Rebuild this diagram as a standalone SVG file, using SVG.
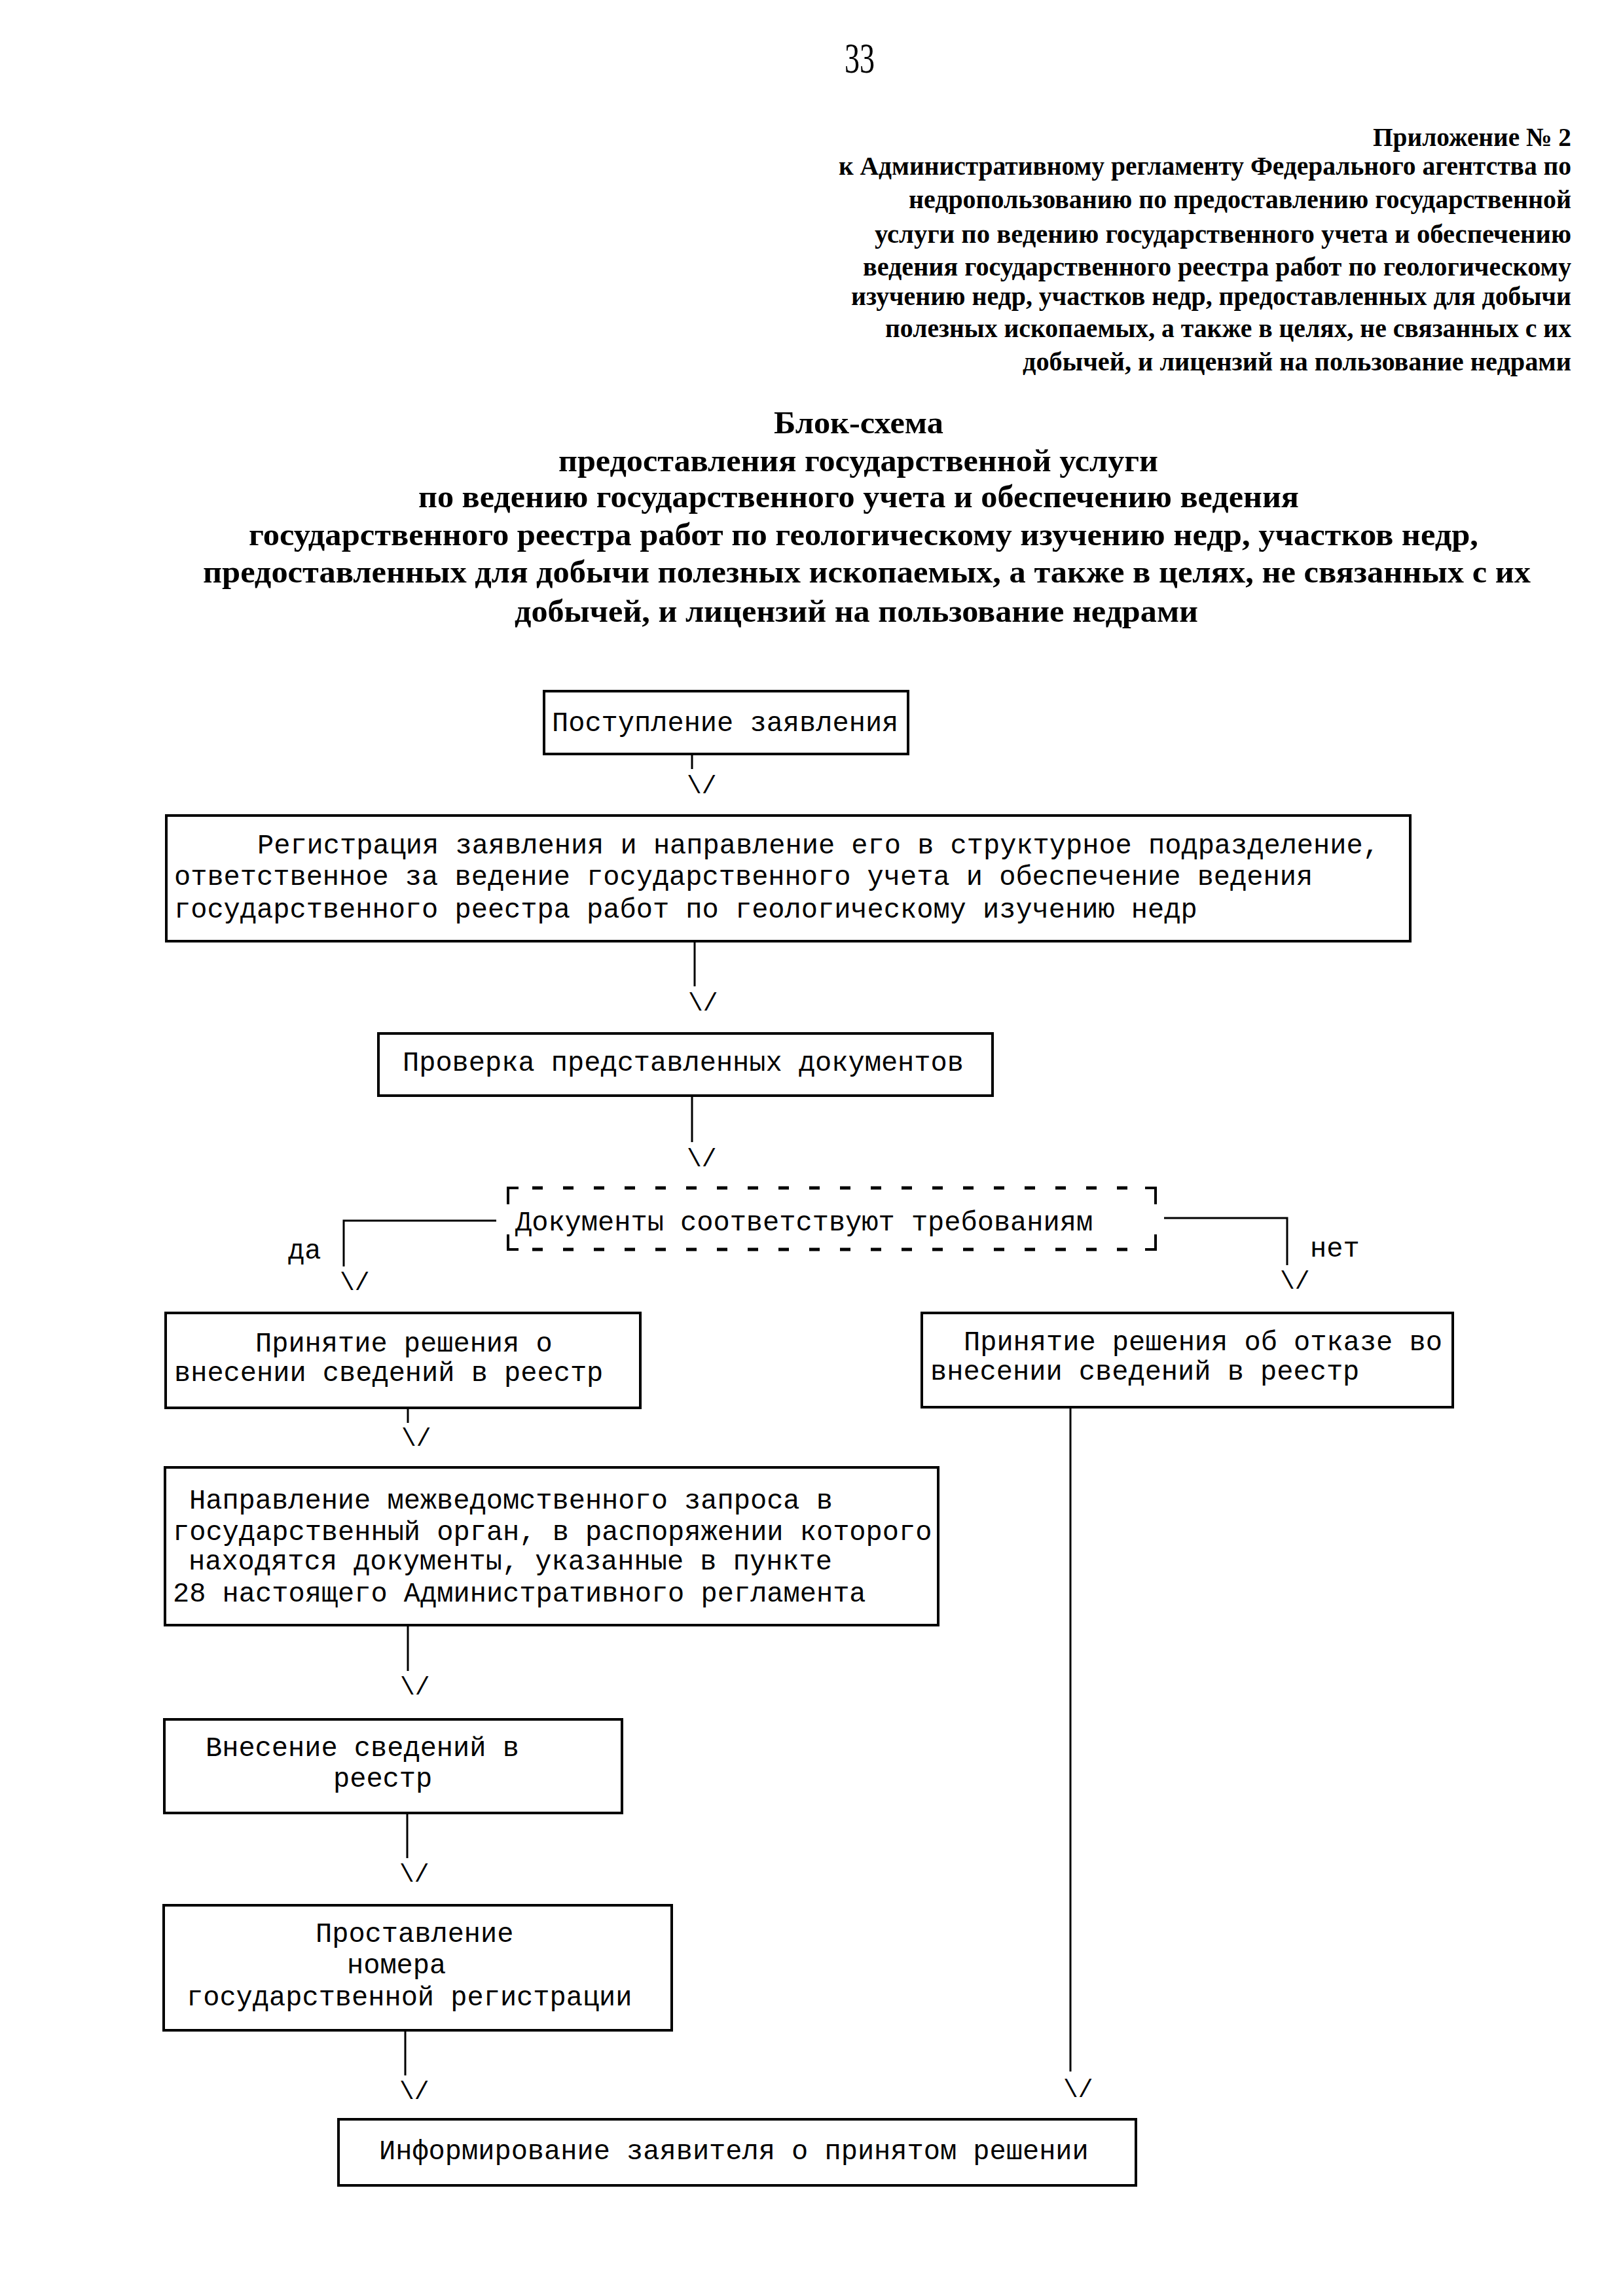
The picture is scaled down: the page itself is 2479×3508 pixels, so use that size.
<svg xmlns="http://www.w3.org/2000/svg" width="2479" height="3508" viewBox="0 0 2479 3508">
<style>
.bg{fill:#fff}
.hdr{font-family:"Liberation Serif","Times New Roman",serif;font-weight:bold;font-size:40px;fill:#000}
.ttl{font-family:"Liberation Serif","Times New Roman",serif;font-weight:bold;font-size:48px;fill:#000}
.pg{font-family:"Liberation Serif","Times New Roman",serif;font-size:66px;fill:#000}
.mono{font-family:"Liberation Mono","Courier New",monospace;font-size:42px;fill:#000}
.arr{font-family:"Liberation Mono","Courier New",monospace;font-size:38px;fill:#000}
.box{fill:none;stroke:#000;stroke-width:4}
.ln{fill:none;stroke:#000;stroke-width:3}
.dash{fill:none;stroke:#000;stroke-width:5;stroke-dasharray:16 31}
.corner{fill:none;stroke:#000;stroke-width:4}
</style>
<rect class="bg" x="0" y="0" width="2479" height="3508"/>

<g id="page-number">
<text class="pg" x="1290" y="111" textLength="46" lengthAdjust="spacingAndGlyphs">33</text>
</g>

<g id="header">
<text class="hdr" x="2097" y="223" textLength="303" lengthAdjust="spacingAndGlyphs">Приложение № 2</text>
<text class="hdr" x="1281" y="267" textLength="1119" lengthAdjust="spacingAndGlyphs">к Административному регламенту Федерального агентства по</text>
<text class="hdr" x="1388" y="318" textLength="1012" lengthAdjust="spacingAndGlyphs">недропользованию по предоставлению государственной</text>
<text class="hdr" x="1336" y="371" textLength="1064" lengthAdjust="spacingAndGlyphs">услуги по ведению государственного учета и обеспечению</text>
<text class="hdr" x="1318" y="421" textLength="1082" lengthAdjust="spacingAndGlyphs">ведения государственного реестра работ по геологическому</text>
<text class="hdr" x="1300" y="466" textLength="1100" lengthAdjust="spacingAndGlyphs">изучению недр, участков недр, предоставленных для добычи</text>
<text class="hdr" x="1352" y="515" textLength="1048" lengthAdjust="spacingAndGlyphs">полезных ископаемых, а также в целях, не связанных с их</text>
<text class="hdr" x="1562" y="566" textLength="838" lengthAdjust="spacingAndGlyphs">добычей, и лицензий на пользование недрами</text>
</g>

<g id="title">
<text class="ttl" x="1182" y="662" textLength="259" lengthAdjust="spacingAndGlyphs">Блок-схема</text>
<text class="ttl" x="853" y="720" textLength="916" lengthAdjust="spacingAndGlyphs">предоставления государственной услуги</text>
<text class="ttl" x="639" y="775" textLength="1345" lengthAdjust="spacingAndGlyphs">по ведению государственного учета и обеспечению ведения</text>
<text class="ttl" x="380" y="833" textLength="1878" lengthAdjust="spacingAndGlyphs">государственного реестра работ по геологическому изучению недр, участков недр,</text>
<text class="ttl" x="310" y="890" textLength="2028" lengthAdjust="spacingAndGlyphs">предоставленных для добычи полезных ископаемых, а также в целях, не связанных с их</text>
<text class="ttl" x="786" y="950" textLength="1044" lengthAdjust="spacingAndGlyphs">добычей, и лицензий на пользование недрами</text>
</g>

<g id="connectors">
<path class="ln" d="M1057,1152 V1175"/>
<text class="arr" x="1049" y="1212">\/</text>
<path class="ln" d="M1061,1438 V1507"/>
<text class="arr" x="1051" y="1544">\/</text>
<path class="ln" d="M1057,1674 V1745"/>
<text class="arr" x="1049" y="1782">\/</text>
<path class="ln" d="M758,1865 H525 V1935"/>
<text class="arr" x="519" y="1971">\/</text>
<path class="ln" d="M1778,1861 H1966 V1933"/>
<text class="arr" x="1955" y="1969">\/</text>
<path class="ln" d="M623,2151 V2174"/>
<text class="arr" x="613" y="2209">\/</text>
<path class="ln" d="M623,2483 V2553"/>
<text class="arr" x="611" y="2589">\/</text>
<path class="ln" d="M622,2770 V2839"/>
<text class="arr" x="610" y="2875">\/</text>
<path class="ln" d="M619,3102 V3171"/>
<text class="arr" x="610" y="3207">\/</text>
<path class="ln" d="M1635,2150 V3165"/>
<text class="arr" x="1624" y="3204">\/</text>
<text class="mono" x="440" y="1923">да</text>
<text class="mono" x="2001" y="1920">нет</text>
</g>

<g id="node-receipt">
<rect class="box" x="831" y="1056" width="556" height="96"/>
<text class="mono" x="843" y="1117">Поступление заявления</text>
</g>

<g id="node-registration">
<rect class="box" x="254" y="1246" width="1900" height="192"/>
<text class="mono" x="393" y="1304">Регистрация заявления и направление его в структурное подразделение,</text>
<text class="mono" x="266" y="1352">ответственное за ведение государственного учета и обеспечение ведения</text>
<text class="mono" x="266" y="1402">государственного реестра работ по геологическому изучению недр</text>
</g>

<g id="node-check">
<rect class="box" x="578" y="1579" width="938" height="95"/>
<text class="mono" x="615" y="1636">Проверка представленных документов</text>
</g>

<g id="node-decision">
<path class="corner" d="M776,1840 V1815 H792"/>
<path class="corner" d="M1749,1815 H1765 V1840"/>
<path class="corner" d="M776,1886 V1909 H792"/>
<path class="corner" d="M1749,1909 H1765 V1886"/>
<path class="dash" d="M813,1815 H1735"/>
<path class="dash" d="M813,1909 H1735"/>
<text class="mono" x="787" y="1880">Документы соответствуют требованиям</text>
</g>

<g id="node-accept">
<rect class="box" x="253" y="2006" width="725" height="145"/>
<text class="mono" x="390" y="2065">Принятие решения о</text>
<text class="mono" x="266" y="2110">внесении сведений в реестр</text>
</g>

<g id="node-refuse">
<rect class="box" x="1408" y="2006" width="811" height="144"/>
<text class="mono" x="1472" y="2063">Принятие решения об отказе во</text>
<text class="mono" x="1421" y="2108">внесении сведений в реестр</text>
</g>

<g id="node-request">
<rect class="box" x="252" y="2242" width="1181" height="241"/>
<text class="mono" x="289" y="2305">Направление межведомственного запроса в</text>
<text class="mono" x="264" y="2353">государственный орган, в распоряжении которого</text>
<text class="mono" x="288" y="2398">находятся документы, указанные в пункте</text>
<text class="mono" x="264" y="2447">28 настоящего Административного регламента</text>
</g>

<g id="node-enter">
<rect class="box" x="251" y="2627" width="699" height="143"/>
<text class="mono" x="314" y="2683">Внесение сведений в</text>
<text class="mono" x="509" y="2730">реестр</text>
</g>

<g id="node-number">
<rect class="box" x="250" y="2911" width="776" height="191"/>
<text class="mono" x="482" y="2967">Проставление</text>
<text class="mono" x="530" y="3015">номера</text>
<text class="mono" x="285" y="3064">государственной регистрации</text>
</g>

<g id="node-inform">
<rect class="box" x="517" y="3238" width="1218" height="101"/>
<text class="mono" x="579" y="3299">Информирование заявителя о принятом решении</text>
</g>
</svg>
